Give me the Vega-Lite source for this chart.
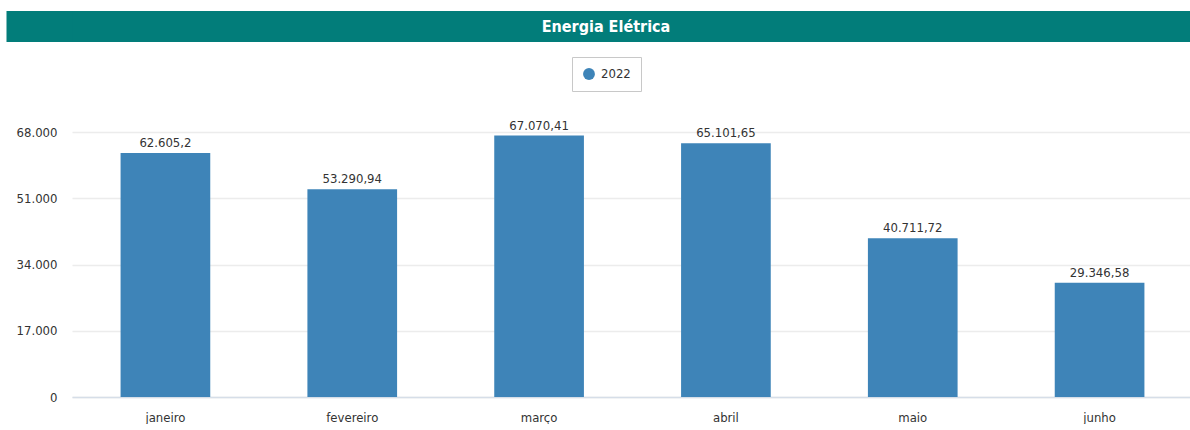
{
  "$schema": "https://vega.github.io/schema/vega-lite/v6.json",
  "padding": {"left": 7, "top": 11, "right": 0, "bottom": 0},
  "background": "white",
  "columns": 1,
  "align": "none",
  "spacing": 14,
  "resolve": {"scale": {"color": "independent"}, "legend": {"color": "independent"}},
  "config": {
    "locale": {"number": {"decimal": ",", "thousands": ".", "grouping": [3], "currency": ["R$", ""]}},
    "font": "DejaVu Sans Condensed, sans-serif",
    "view": {"stroke": null}
  },
  "concat": [
    {
      "width": 1133,
      "height": 31,
      "view": {"fill": "#027D7A", "stroke": null},
      "data": {"values": [{"t": "Energia Elétrica"}]},
      "mark": {"type": "text", "fontWeight": "bold", "fontSize": 16, "color": "white", "dx": -32.5, "font": "DejaVu Sans Condensed, sans-serif"},
      "encoding": {
        "text": {"field": "t"},
        "y": {
          "field": "t",
          "type": "nominal",
          "axis": {
            "title": null,
            "labels": false,
            "ticks": false,
            "grid": false,
            "translate": 0,
            "domainColor": "#027D7A",
            "domainWidth": 66,
            "offset": 32.5
          }
        }
      }
    },
    {
      "width": 1121,
      "height": 265,
      "data": {
        "values": [
          {"mes": "janeiro", "valor": 62605.2, "ano": "2022"},
          {"mes": "fevereiro", "valor": 53290.94, "ano": "2022"},
          {"mes": "março", "valor": 67070.41, "ano": "2022"},
          {"mes": "abril", "valor": 65101.65, "ano": "2022"},
          {"mes": "maio", "valor": 40711.72, "ano": "2022"},
          {"mes": "junho", "valor": 29346.58, "ano": "2022"}
        ]
      },
      "encoding": {
        "x": {
          "field": "mes",
          "type": "nominal",
          "sort": null,
          "scale": {"paddingInner": 0.52, "paddingOuter": 0.26},
          "axis": {
            "title": null,
            "labelAngle": 0,
            "labelFontSize": 13,
            "labelColor": "#333333",
            "labelPadding": 14,
            "ticks": false,
            "domainColor": "#D6DEE8",
            "domainWidth": 1.5
          }
        },
        "y": {
          "field": "valor",
          "type": "quantitative",
          "scale": {"domain": [0, 68000], "nice": false},
          "axis": {
            "title": null,
            "values": [0, 17000, 34000, 51000, 68000],
            "format": ",d",
            "labelFontSize": 13,
            "labelColor": "#333333",
            "labelPadding": 15,
            "ticks": false,
            "domain": false,
            "gridColor": "#ECECEC",
            "gridWidth": 1.5,
            "minExtent": 65
          }
        }
      },
      "layer": [
        {
          "mark": {"type": "bar"},
          "encoding": {
            "color": {
              "field": "ano",
              "type": "nominal",
              "scale": {"range": ["#3E84B8"]},
              "legend": {
                "title": null,
                "orient": "none",
                "legendX": 500,
                "legendY": -75,
                "symbolType": "circle",
                "symbolSize": 140,
                "labelFontSize": 13,
                "labelColor": "#333333",
                "labelOffset": 5,
                "padding": 10,
                "strokeColor": "#C8C8C8",
                "fillColor": "white"
              }
            }
          }
        },
        {
          "mark": {"type": "text", "baseline": "alphabetic", "dy": -6, "fontSize": 13, "color": "#333333"},
          "encoding": {
            "text": {"field": "valor", "type": "quantitative", "format": ",.2~f"}
          }
        }
      ]
    }
  ]
}
